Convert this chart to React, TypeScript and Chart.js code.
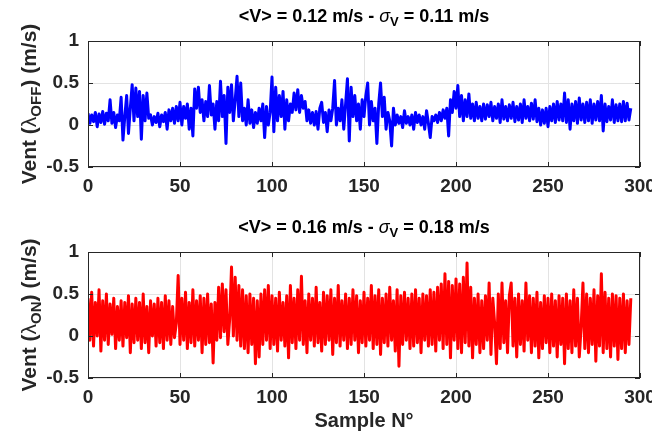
import React, { useEffect, useRef } from "react";
import { Chart, registerables } from "chart.js";
Chart.register(...registerables);

const FONT = '"Liberation Sans", Arial, sans-serif';
const xTicks = [0, 50, 100, 150, 200, 250, 300];
const yTicks = [-0.5, 0, 0.5, 1];

// Wind speed, lambda OFF (m/s), one value per sample
const ventOff = [
  0.14, 0.02, 0.12, 0.04, 0.15, -0.02, 0.13, 0.03, 0.16, 0.01,
  0.14, 0.05, 0.30, 0.02, 0.15, -0.03, 0.12, 0.05, 0.33, -0.18,
  0.10, 0.35, -0.10, 0.20, 0.48, 0.05, 0.44, 0.10, 0.40, -0.17,
  0.35, 0.05, 0.38, 0.08, 0.12, 0.00, 0.10, 0.03, 0.14, -0.02,
  0.12, 0.04, 0.15, -0.05, 0.18, 0.05, 0.20, 0.02, 0.22, 0.05,
  0.27, 0.00, 0.22, 0.08, 0.25, -0.05, 0.20, -0.13, 0.43, 0.20,
  0.45, 0.15, 0.30, 0.05, 0.28, 0.10, 0.47, 0.12, 0.25, -0.05,
  0.28, 0.05, 0.52, 0.10, 0.35, -0.22, 0.45, 0.15, 0.48, 0.05,
  0.30, 0.58, 0.10, 0.50, 0.05, 0.20, 0.00, 0.30, 0.02, 0.18,
  -0.03, 0.15, 0.02, 0.20, 0.05, 0.25, -0.15, 0.22, 0.00, 0.15,
  0.57, -0.08, 0.45, 0.05, 0.35, 0.10, 0.40, -0.05, 0.30, 0.05,
  0.25, 0.15, 0.38, 0.18, 0.42, 0.15, 0.35, 0.20, 0.28, 0.05,
  0.18, 0.02, 0.15, 0.00, 0.16, -0.05, 0.20, 0.27, 0.03, 0.15,
  -0.08, 0.18, 0.05, 0.20, 0.53, 0.00, 0.20, 0.05, 0.30, -0.05,
  0.25, 0.55, -0.19, 0.45, 0.10, 0.35, 0.05, 0.25, -0.05, 0.30,
  0.10, 0.35, 0.50, 0.00, 0.28, 0.05, 0.20, -0.22, 0.25, 0.50,
  0.10, 0.33, -0.05, 0.15, 0.05, -0.25, 0.20, 0.00, 0.12, 0.02,
  0.10, -0.03, 0.17, 0.02, 0.10, 0.00, 0.12, -0.05, 0.15, 0.03,
  0.12, 0.00, 0.10, -0.05, 0.17, 0.02, -0.15, 0.10, 0.05, 0.12,
  0.03, 0.15, 0.05, 0.18, 0.08, 0.20, -0.13, 0.30, 0.15, 0.40,
  0.20, 0.47, 0.10, 0.35, 0.05, 0.30, 0.10, 0.37, 0.08, 0.25,
  0.05, 0.27, 0.08, 0.22, 0.05, 0.25, 0.07, 0.24, 0.10, 0.27,
  0.05, 0.22, 0.08, 0.25, 0.03, 0.30, 0.07, 0.22, 0.05, 0.24,
  0.08, 0.27, 0.04, 0.22, 0.06, 0.25, 0.03, 0.30, 0.08, 0.22,
  0.05, 0.26, 0.07, 0.30, 0.04, 0.20, 0.00, 0.18, 0.02, 0.20,
  -0.02, 0.22, 0.05, 0.25, 0.03, 0.28, 0.06, 0.25, 0.05, 0.38,
  0.03, 0.30, -0.05, 0.25, 0.05, 0.28, 0.02, 0.32, 0.06, 0.25,
  0.03, 0.27, 0.05, 0.30, 0.02, 0.25, 0.06, 0.28, 0.05, 0.35,
  -0.07, 0.25, 0.04, 0.22, 0.06, 0.30, 0.03, 0.24, 0.05, 0.25,
  0.04, 0.28, 0.05, 0.26, 0.06, 0.20,
];

// Wind speed, lambda ON (m/s), one value per sample
const ventOn = [
  0.45, -0.05, 0.52, -0.12, 0.40, 0.00, 0.55, -0.18, 0.42, -0.05,
  0.50, -0.10, 0.38, 0.02, 0.45, -0.15, 0.35, -0.05, 0.42, -0.12,
  0.40, -0.02, 0.48, -0.20, 0.38, -0.08, 0.45, -0.05, 0.40, -0.15,
  0.50, -0.08, 0.35, -0.20, 0.42, 0.00, 0.38, -0.12, 0.45, -0.08,
  0.40, -0.15, 0.48, -0.05, 0.42, -0.10, 0.35, -0.02, 0.15, 0.72,
  -0.10, 0.45, -0.05, 0.52, -0.15, 0.40, -0.08, 0.55, -0.12, 0.42,
  -0.05, 0.48, -0.20, 0.45, -0.10, 0.50, -0.08, 0.38, -0.32, 0.40,
  -0.05, 0.58, -0.02, 0.62, 0.05, 0.55, -0.10, 0.20, 0.82, 0.00,
  0.70, -0.05, 0.60, -0.12, 0.55, -0.15, 0.48, -0.20, 0.50, -0.10,
  0.45, -0.33, 0.42, -0.25, 0.50, -0.10, 0.55, -0.05, 0.60, -0.15,
  0.48, -0.10, 0.45, -0.18, 0.52, -0.05, 0.40, -0.12, 0.48, -0.26,
  0.60, -0.08, 0.45, -0.15, 0.55, -0.05, 0.71, -0.10, 0.42, -0.20,
  0.50, -0.05, 0.45, -0.12, 0.58, -0.08, 0.40, -0.18, 0.52, -0.10,
  0.48, -0.05, 0.55, -0.22, 0.45, -0.08, 0.60, -0.12, 0.42, -0.05,
  0.50, -0.15, 0.45, -0.10, 0.55, -0.05, 0.48, -0.20, 0.42, -0.08,
  0.52, -0.12, 0.45, -0.05, 0.60, -0.15, 0.48, -0.10, 0.55, -0.22,
  0.45, -0.08, 0.50, -0.12, 0.58, -0.05, 0.42, -0.18, 0.55, -0.36,
  0.48, -0.10, 0.52, -0.05, 0.45, -0.15, 0.50, -0.12, 0.55, -0.08,
  0.45, -0.20, 0.50, -0.05, 0.48, -0.12, 0.55, -0.10, 0.52, -0.18,
  0.58, -0.05, 0.62, -0.15, 0.74, -0.10, 0.65, -0.26, 0.60, -0.05,
  0.68, -0.15, 0.62, -0.20, 0.70, -0.08, 0.87, -0.12, 0.58, -0.26,
  0.45, -0.10, 0.50, -0.20, 0.42, -0.15, 0.48, -0.05, 0.63, -0.22,
  0.45, 0.15, -0.33, 0.50, -0.15, 0.63, -0.08, 0.42, -0.20, 0.48,
  0.63, -0.12, 0.45, -0.25, 0.50, -0.10, 0.42, -0.18, 0.63, -0.05,
  0.48, -0.20, 0.45, -0.12, 0.52, -0.26, 0.40, -0.15, 0.48, -0.08,
  0.45, -0.20, 0.50, -0.12, 0.42, -0.25, 0.48, -0.10, 0.45, -0.33,
  0.50, -0.15, 0.42, -0.20, 0.55, -0.12, 0.45, -0.25, 0.10, 0.63,
  -0.15, 0.50, -0.20, 0.45, -0.10, 0.55, -0.30, 0.48, -0.12, 0.74,
  -0.20, 0.52, -0.15, 0.45, -0.25, 0.50, -0.12, 0.48, -0.28, 0.45,
  -0.15, 0.50, -0.20, 0.42, -0.10, 0.45,
];

type Seg = { t: string; sub?: boolean; italic?: boolean; light?: boolean };

function segFont(s: Seg, size: number) {
  const sz = s.sub ? Math.round(size * 0.72) : size;
  return `${s.italic ? "italic " : ""}${s.light ? "normal" : "bold"} ${sz}px ${FONT}`;
}

function drawRich(ctx: CanvasRenderingContext2D, segs: Seg[], cx: number, cy: number, size: number, color: string) {
  let total = 0;
  const widths = segs.map((s) => {
    ctx.font = segFont(s, size);
    const w = ctx.measureText(s.t).width;
    total += w;
    return w;
  });
  let x = cx - total / 2;
  ctx.fillStyle = color;
  ctx.textBaseline = "middle";
  ctx.textAlign = "left";
  segs.forEach((s, i) => {
    ctx.font = segFont(s, size);
    ctx.fillText(s.t, x, cy + (s.sub ? size * 0.32 : 0));
    x += widths[i];
  });
}

type PanelProps = {
  values: number[];
  color: string;
  height: number;
  plotTop: number;
  plotBottom: number;
  title: Seg[];
  ylabel: Seg[];
  xlabel?: string;
  titleY: number;
  xlabelY?: number;
};

function Panel(p: PanelProps) {
  const ref = useRef<HTMLCanvasElement | null>(null);
  useEffect(() => {
    if (!ref.current) return;
    const dark = "#262626";
    const deco = {
      id: "deco",
      afterDraw(chart: any) {
        const ctx: CanvasRenderingContext2D = chart.ctx;
        const a = chart.chartArea;
        ctx.save();
        ctx.strokeStyle = dark;
        ctx.lineWidth = 1;
        ctx.strokeRect(Math.round(a.left) + 0.5, Math.round(a.top) + 0.5, Math.round(a.right - a.left) - 1, Math.round(a.bottom - a.top) - 1);
        const xs = chart.scales.x;
        const ys = chart.scales.y;
        ctx.beginPath();
        xTicks.forEach((v) => {
          const px = Math.round(xs.getPixelForValue(v)) + 0.5;
          ctx.moveTo(px, a.bottom);
          ctx.lineTo(px, a.bottom - 5);
          ctx.moveTo(px, a.top);
          ctx.lineTo(px, a.top + 5);
        });
        yTicks.forEach((v) => {
          const py = Math.round(ys.getPixelForValue(v)) + 0.5;
          ctx.moveTo(a.left, py);
          ctx.lineTo(a.left + 5, py);
          ctx.moveTo(a.right, py);
          ctx.lineTo(a.right - 5, py);
        });
        ctx.stroke();
        drawRich(ctx, p.title, (a.left + a.right) / 2, p.titleY, 18, "#000000");
        ctx.save();
        ctx.translate(30, (a.top + a.bottom) / 2);
        ctx.rotate(-Math.PI / 2);
        drawRich(ctx, p.ylabel, 0, 0, 21, dark);
        ctx.restore();
        if (p.xlabel && p.xlabelY) {
          drawRich(ctx, [{ t: p.xlabel }], (a.left + a.right) / 2, p.xlabelY, 20, dark);
        }
        ctx.restore();
      },
    };
    const chart = new Chart(ref.current, {
      type: "line",
      data: {
        datasets: [
          {
            data: p.values.map((v, i) => ({ x: i, y: v })),
            borderColor: p.color,
            backgroundColor: p.color,
            borderWidth: 3,
            pointRadius: 0,
            tension: 0,
            borderJoinStyle: "round",
            fill: false,
          },
        ],
      },
      options: {
        animation: false,
        responsive: false,
        devicePixelRatio: 1,
        layout: { padding: { left: 0, right: 12, top: p.plotTop, bottom: 0 } },
        plugins: { legend: { display: false }, tooltip: { enabled: false }, title: { display: false } },
        scales: {
          x: {
            type: "linear",
            min: 0,
            max: 300,
            afterBuildTicks: (s: any) => {
              s.ticks = xTicks.map((v) => ({ value: v }));
            },
            afterFit: (s: any) => {
              s.height = p.height - p.plotBottom;
              s.paddingLeft = 0;
              s.paddingRight = 0;
            },
            ticks: {
              autoSkip: false,
              maxRotation: 0,
              padding: 8,
              color: dark,
              font: { family: FONT, size: 19, weight: "bold" },
              callback: (v: any) => String(v),
            },
            grid: { color: "#e3e3e3", lineWidth: 1, drawTicks: false },
            border: { display: false },
          },
          y: {
            type: "linear",
            min: -0.5,
            max: 1,
            afterBuildTicks: (s: any) => {
              s.ticks = yTicks.map((v) => ({ value: v }));
            },
            afterFit: (s: any) => {
              s.width = 88;
              s.paddingTop = 0;
              s.paddingBottom = 0;
            },
            ticks: {
              padding: 9,
              color: dark,
              font: { family: FONT, size: 19, weight: "bold" },
              callback: (v: any) => String(v),
            },
            grid: { color: "#e3e3e3", lineWidth: 1, drawTicks: false },
            border: { display: false },
          },
        },
      } as any,
      plugins: [deco],
    });
    return () => chart.destroy();
  }, []);
  return <canvas ref={ref} width={652} height={p.height} style={{ display: "block", width: 652, height: p.height }} />;
}

const titleOff: Seg[] = [
  { t: "<V> = 0.12 m/s - " },
  { t: "σ", italic: true, light: true },
  { t: "V", sub: true },
  { t: " = 0.11 m/s" },
];
const titleOn: Seg[] = [
  { t: "<V> = 0.16 m/s - " },
  { t: "σ", italic: true, light: true },
  { t: "V", sub: true },
  { t: " = 0.18 m/s" },
];
const ylabelOff: Seg[] = [{ t: "Vent (" }, { t: "λ", light: true }, { t: "OFF", sub: true }, { t: ") (m/s)" }];
const ylabelOn: Seg[] = [{ t: "Vent (" }, { t: "λ", light: true }, { t: "ON", sub: true }, { t: ") (m/s)" }];

export default function App() {
  return (
    <div style={{ position: "absolute", left: 0, top: 0, width: 652, height: 436, background: "#ffffff" }}>
      <Panel values={ventOff} color="#0000ff" height={210} plotTop={41} plotBottom={167} title={titleOff} ylabel={ylabelOff} titleY={17} />
      <Panel
        values={ventOn}
        color="#ff0000"
        height={226}
        plotTop={42}
        plotBottom={168}
        title={titleOn}
        ylabel={ylabelOn}
        titleY={18}
        xlabel="Sample N°"
        xlabelY={211}
      />
    </div>
  );
}
